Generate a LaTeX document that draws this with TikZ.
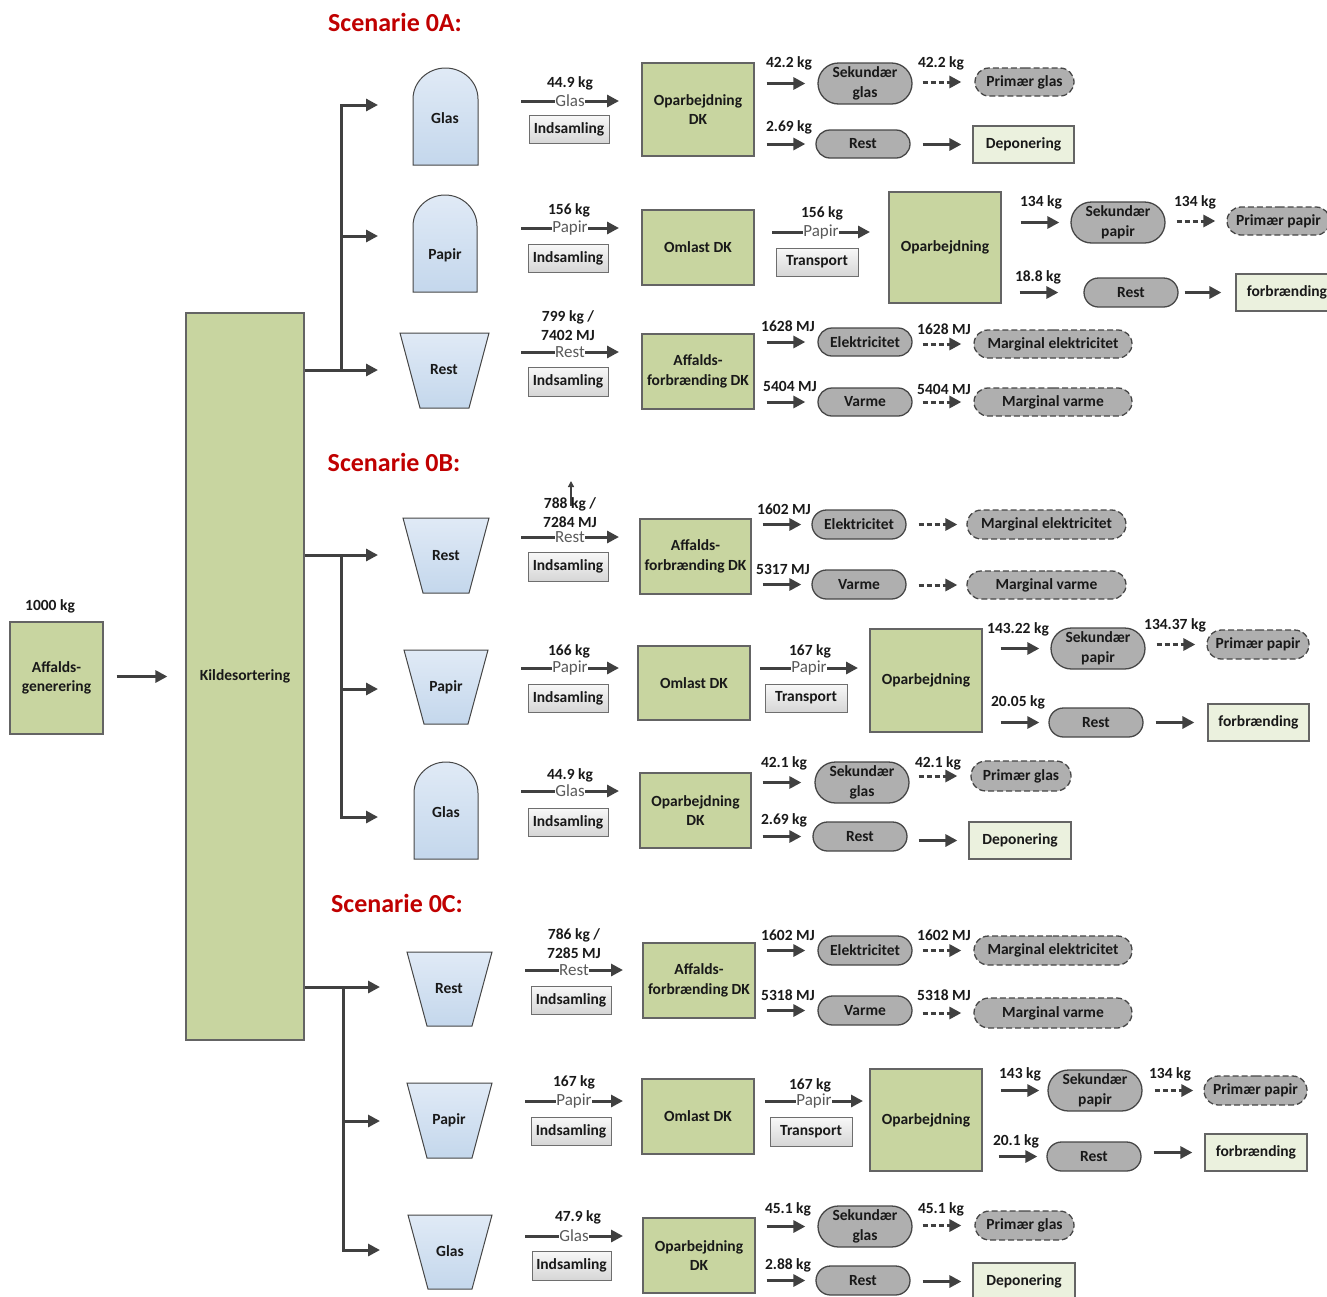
\documentclass[tikz,border=0pt]{standalone}
\usepackage{fontspec}
\setmainfont{Carlito}
\usetikzlibrary{arrows.meta,shapes.misc}
\definecolor{ogreen}{RGB}{200,213,160}
\definecolor{obord}{RGB}{100,100,100}
\definecolor{arrc}{RGB}{64,64,64}
\definecolor{pillc}{RGB}{175,175,175}
\definecolor{pillb}{RGB}{70,70,70}
\definecolor{lgreen}{RGB}{235,241,222}
\definecolor{lbord}{RGB}{100,100,100}
\definecolor{titred}{RGB}{192,0,0}
\definecolor{blue1}{RGB}{224,234,246}
\definecolor{blue2}{RGB}{196,215,236}
\definecolor{contb}{RGB}{70,70,70}
\definecolor{g1}{RGB}{248,248,248}
\definecolor{g2}{RGB}{214,214,214}
\definecolor{gbord}{RGB}{110,110,110}
\definecolor{txt}{RGB}{25,25,25}
\definecolor{flowc}{RGB}{90,90,90}
\newcommand\bx[6]{\node[#1,minimum width={(#5)-(#3)},minimum height={(#6)-(#4)}] (#2) at ({((#3)+(#5))/2},{((#4)+(#6))/2})}
\newcommand\cnx[5][arr]{\draw[#1] ([xshift=#4pt]#2.east |- #3.west) -- ([xshift=-#5pt]#3.west);}
\newcommand\domeshape[4]{\shadedraw[cont] (#1,#4) -- (#1,{#2+31}) .. controls (#1,{#2+14}) and ({(#1+#3)/2-0.5523*(#3-#1)/2},#2) .. ({(#1+#3)/2},#2) .. controls ({(#1+#3)/2+0.5523*(#3-#1)/2},#2) and (#3,{#2+14}) .. (#3,{#2+31}) -- (#3,#4) -- cycle;}
\newcommand\trapshape[6]{\shadedraw[cont] (#1,#3) -- (#2,#3) -- (#5,#6) -- (#4,#6) -- cycle;}
\tikzset{
 every node/.style={text=txt},
 arr/.style={draw=arrc,line width=3pt,-{Triangle[length=12pt,width=12pt]}},
 darr/.style={arr,dash pattern=on 5pt off 3pt},
 tiparr/.style={draw=arrc,line width=1.3pt,-{Triangle[length=6pt,width=6pt]}},
 bf/.style={font=\fontsize{15.5}{19.5}\selectfont\bfseries},
 lbl/.style={bf,inner sep=0pt,align=center},
 flow/.style={font=\fontsize{17}{19}\selectfont,text=flowc,fill=white,inner sep=0.5pt},
 obox/.style={bf,draw=obord,fill=ogreen,line width=1.2pt,align=center,inner sep=0pt},
 gbox/.style={bf,draw=gbord,top color=g1,bottom color=g2,line width=1pt,inner sep=0pt},
 lbox/.style={bf,draw=lbord,fill=lgreen,line width=1.2pt,inner sep=0pt},
 pill/.style={bf,rounded rectangle,draw=pillb,fill=pillc,line width=1.3pt,align=center,inner sep=0pt},
 dpill/.style={pill,dash pattern=on 6pt off 3pt},
 cont/.style={draw=contb,line width=1pt,top color=blue1,bottom color=blue2},
 clbl/.style={bf,inner sep=0pt},
 title/.style={font=\fontsize{26}{30}\selectfont\bfseries,text=titred,inner sep=0pt},
}
\begin{document}
\begin{tikzpicture}[x={(1pt,0pt)},y={(0pt,-1pt)}]
\useasboundingbox (0,0) rectangle (1327,1296);
\clip (0,0) rectangle (1327,1296);
% ---------- left part
\bx{obox}{aff}{10}{622}{103}{734}{Affalds-\\generering};
\node[lbl] (l1000) at (50,606) {1000 kg};
\bx{obox}{kil}{186}{313}{304}{1040}{Kildesortering};
\cnx{aff}{kil}{13}{18}
% ---------- titles
\node[title] (tA) at (395,22) {Scenarie 0A:};
\node[title] (tB) at (394,462) {Scenarie 0B:};
\node[title] (tC) at (397,903) {Scenarie 0C:};
% ---------- branches
\coordinate (jA) at (341,370);
\coordinate (eA1) at (378,105); \coordinate (eA2) at (378,236); \coordinate (eA3) at (378,370);
\draw[arr] (jA) -- (jA |- eA1) -- (eA1);
\draw[arr] (jA |- eA2) -- (eA2);
\draw[arr] (kil.east |- eA3) -- (eA3);
\coordinate (jB) at (341,555);
\coordinate (eB1) at (378,555); \coordinate (eB2) at (378,689); \coordinate (eB3) at (378,817);
\draw[arr] (kil.east |- eB1) -- (eB1);
\draw[arr] (jB) -- (jB |- eB3) -- (eB3);
\draw[arr] (jB |- eB2) -- (eB2);
\coordinate (jC) at (343,987);
\coordinate (eC1) at (380,987); \coordinate (eC2) at (380,1121); \coordinate (eC3) at (380,1250);
\draw[arr] (kil.east |- eC1) -- (eC1);
\draw[arr] (jC) -- (jC |- eC3) -- (eC3);
\draw[arr] (jC |- eC2) -- (eC2);
% ---------- containers
\domeshape{413}{68}{478}{165}
\node[clbl] (cA1) at (445,118) {Glas};
\domeshape{413}{195}{477}{292}
\node[clbl] (cA2) at (445,255) {Papir};
\trapshape{400}{489}{333}{420}{469}{408}
\node[clbl] (cA3) at (444,370) {Rest};
\trapshape{403}{489}{518}{423}{469}{593}
\node[clbl] (cB1) at (446,556) {Rest};
\trapshape{404}{488}{650}{424}{468}{724}
\node[clbl] (cB2) at (446,687) {Papir};
\domeshape{414}{762}{478}{859}
\node[clbl] (cB3) at (446,812) {Glas};
\trapshape{407}{492}{952}{427}{472}{1026}
\node[clbl] (cC1) at (449,989) {Rest};
\trapshape{407}{492}{1083}{427}{472}{1158}
\node[clbl] (cC2) at (449,1120) {Papir};
\trapshape{408}{492}{1215}{428}{472}{1289}
\node[clbl] (cC3) at (450,1251) {Glas};
% ---------- collection flows
\node[lbl] (qA1) at (570,83) {44.9 kg};
\coordinate (aA1) at (521,101); \coordinate (bA1) at (619,101);
\draw[arr] (aA1) -- node[flow]{Glas} (bA1);
\bx{gbox}{iA1}{529}{115}{609}{143}{Indsamling};
\node[lbl] (qA2) at (569,210) {156 kg};
\coordinate (aA2) at (521,228); \coordinate (bA2) at (619,228);
\draw[arr] (aA2) -- node[flow]{Papir} (bA2);
\bx{gbox}{iA2}{528}{244}{608}{272}{Indsamling};
\node[lbl] (qA3) at (568,325.5) {799 kg /\\7402 MJ};
\coordinate (aA3) at (521,352); \coordinate (bA3) at (619,352);
\draw[arr] (aA3) -- node[flow]{Rest} (bA3);
\bx{gbox}{iA3}{528}{367}{608}{396}{Indsamling};
\coordinate (uB0) at (571,506); \coordinate (uB1) at (571,481);
\draw[tiparr] (uB0) -- (uB1);
\node[lbl] (qB1) at (570,512.5) {788 kg /\\7284 MJ};
\coordinate (aB1) at (521,537); \coordinate (bB1) at (619,537);
\draw[arr] (aB1) -- node[flow]{Rest} (bB1);
\bx{gbox}{iB1}{528}{552}{608}{581}{Indsamling};
\node[lbl] (qB2) at (569,651) {166 kg};
\coordinate (aB2) at (521,668); \coordinate (bB2) at (619,668);
\draw[arr] (aB2) -- node[flow]{Papir} (bB2);
\bx{gbox}{iB2}{528}{684}{608}{712}{Indsamling};
\node[lbl] (qB3) at (570,775) {44.9 kg};
\coordinate (aB3) at (521,791); \coordinate (bB3) at (619,791);
\draw[arr] (aB3) -- node[flow]{Glas} (bB3);
\bx{gbox}{iB3}{528}{808}{608}{836}{Indsamling};
\node[lbl] (qC1) at (574,943.5) {786 kg /\\7285 MJ};
\coordinate (aC1) at (525,970); \coordinate (bC1) at (623,970);
\draw[arr] (aC1) -- node[flow]{Rest} (bC1);
\bx{gbox}{iC1}{531}{986}{611}{1014}{Indsamling};
\node[lbl] (qC2) at (574,1082) {167 kg};
\coordinate (aC2) at (525,1101); \coordinate (bC2) at (623,1101);
\draw[arr] (aC2) -- node[flow]{Papir} (bC2);
\bx{gbox}{iC2}{531}{1117}{611}{1145}{Indsamling};
\node[lbl] (qC3) at (578,1217) {47.9 kg};
\coordinate (aC3) at (525,1236); \coordinate (bC3) at (623,1236);
\draw[arr] (aC3) -- node[flow]{Glas} (bC3);
\bx{gbox}{iC3}{532}{1251}{611}{1280}{Indsamling};
% ---------- process boxes
\bx{obox}{pA1}{642}{63}{754}{156}{Oparbejdning\\DK};
\bx{obox}{pA2}{642}{210}{754}{285}{Omlast DK};
\bx{obox}{pA3}{642}{334}{754}{409}{Affalds-\\forbrænding DK};
\bx{obox}{pB1}{640}{519}{751}{594}{Affalds-\\forbrænding DK};
\bx{obox}{pB2}{638}{646}{750}{720}{Omlast DK};
\bx{obox}{pB3}{640}{773}{751}{848}{Oparbejdning\\DK};
\bx{obox}{pC1}{643}{943}{755}{1018}{Affalds-\\forbrænding DK};
\bx{obox}{pC2}{642}{1079}{754}{1154}{Omlast DK};
\bx{obox}{pC3}{643}{1218}{755}{1293}{Oparbejdning\\DK};
% ---------- transport
\node[lbl] (trqA) at (822,213) {156 kg};
\coordinate (taA) at (772,232); \coordinate (tbA) at (870,232);
\draw[arr] (taA) -- node[flow]{Papir} (tbA);
\bx{gbox}{trA}{776}{248}{858}{276}{Transport};
\node[lbl] (trqB) at (810,651) {167 kg};
\coordinate (taB) at (760,668); \coordinate (tbB) at (858,668);
\draw[arr] (taB) -- node[flow]{Papir} (tbB);
\bx{gbox}{trB}{765}{684}{847}{712}{Transport};
\node[lbl] (trqC) at (810,1085) {167 kg};
\coordinate (taC) at (765,1101); \coordinate (tbC) at (863,1101);
\draw[arr] (taC) -- node[flow]{Papir} (tbC);
\bx{gbox}{trC}{770}{1117}{852}{1146}{Transport};
% ---------- big Oparbejdning
\bx{obox}{oA}{889}{192}{1001}{303}{Oparbejdning};
\bx{obox}{oB}{870}{629}{982}{732}{Oparbejdning};
\bx{obox}{oC}{870}{1069}{982}{1171}{Oparbejdning};
% ---------- 0A glas outputs
\bx{pill}{sgA}{818}{63}{912}{104}{Sekundær\\glas};
\bx{dpill}{pgA}{975}{68}{1074}{96}{Primær glas};
\bx{pill}{rgA}{816}{130}{910}{158}{Rest};
\bx{lbox}{dA}{973}{126}{1074}{163}{Deponering};
\node[lbl] at (789,63) {42.2 kg};
\node[lbl] at (941,63) {42.2 kg};
\node[lbl] at (789,127) {2.69 kg};
\cnx{pA1}{sgA}{12}{12}
\cnx[darr]{sgA}{pgA}{10}{13}
\cnx{pA1}{rgA}{12}{10}
\cnx{rgA}{dA}{12}{11}
% ---------- 0A papir outputs
\bx{pill}{spA}{1071}{202}{1165}{243}{Sekundær\\papir};
\bx{dpill}{ppA}{1227}{207}{1330}{235}{Primær papir};
\bx{pill}{rpA}{1084}{278}{1178}{307}{Rest};
\bx{lbox}{fA}{1236}{274}{1338}{311}{forbrænding};
\node[lbl] at (1041,202) {134 kg};
\node[lbl] at (1195,202) {134 kg};
\node[lbl] at (1038,277) {18.8 kg};
\cnx{oA}{spA}{19}{11}
\cnx[darr]{spA}{ppA}{11}{11}
\cnx{oA}{rpA}{18}{25}
\cnx{rpA}{fA}{6}{14}
% ---------- 0A rest outputs
\bx{pill}{elA}{818}{328}{912}{356}{Elektricitet};
\bx{dpill}{meA}{974}{330}{1132}{358}{Marginal elektricitet};
\bx{pill}{vaA}{818}{388}{912}{416}{Varme};
\bx{dpill}{mvA}{974}{388}{1132}{416}{Marginal varme};
\node[lbl] at (788,326) {1628 MJ};
\node[lbl] at (944,329) {1628 MJ};
\node[lbl] at (790,386) {5404 MJ};
\node[lbl] at (944,389) {5404 MJ};
\cnx{pA3}{elA}{12}{12}
\cnx[darr]{elA}{meA}{10}{12}
\cnx{pA3}{vaA}{12}{12}
\cnx[darr]{vaA}{mvA}{10}{12}
% ---------- 0B rest outputs
\bx{pill}{elB}{812}{510}{906}{539}{Elektricitet};
\bx{dpill}{meB}{967}{510}{1126}{539}{Marginal elektricitet};
\bx{pill}{vaB}{812}{570}{906}{599}{Varme};
\bx{dpill}{mvB}{967}{571}{1126}{599}{Marginal varme};
\node[lbl] at (784,509) {1602 MJ};
\node[lbl] at (783,569) {5317 MJ};
\cnx{pB1}{elB}{11}{10}
\cnx[darr]{elB}{meB}{12}{9}
\cnx{pB1}{vaB}{11}{10}
\cnx[darr]{vaB}{mvB}{12}{9}
% ---------- 0B papir outputs
\bx{pill}{spB}{1051}{628}{1145}{669}{Sekundær\\papir};
\bx{dpill}{ppB}{1207}{630}{1309}{659}{Primær papir};
\bx{pill}{rpB}{1049}{708}{1143}{737}{Rest};
\bx{lbox}{fB}{1208}{704}{1309}{741}{forbrænding};
\node[lbl] at (1018,629) {143.22 kg};
\node[lbl] at (1175,625) {134.37 kg};
\node[lbl] at (1018,702) {20.05 kg};
\cnx{oB}{spB}{18}{11}
\cnx[darr]{spB}{ppB}{11}{11}
\cnx{oB}{rpB}{18}{9}
\cnx{rpB}{fB}{12}{13}
% ---------- 0B glas outputs
\bx{pill}{sgB}{815}{762}{909}{803}{Sekundær\\glas};
\bx{dpill}{pgB}{971}{761}{1071}{791}{Primær glas};
\bx{pill}{rgB}{813}{822}{907}{851}{Rest};
\bx{lbox}{dB}{969}{822}{1071}{859}{Deponering};
\node[lbl] at (784,763) {42.1 kg};
\node[lbl] at (938,763) {42.1 kg};
\node[lbl] at (784,820) {2.69 kg};
\cnx{pB3}{sgB}{11}{13}
\cnx[darr]{sgB}{pgB}{9}{13}
\cnx{pB3}{rgB}{11}{11}
\cnx{rgB}{dB}{11}{11}
% ---------- 0C rest outputs
\bx{pill}{elC}{818}{936}{912}{965}{Elektricitet};
\bx{dpill}{meC}{974}{936}{1132}{965}{Marginal elektricitet};
\bx{pill}{vaC}{818}{996}{912}{1025}{Varme};
\bx{dpill}{mvC}{974}{998}{1132}{1028}{Marginal varme};
\node[lbl] at (788,935) {1602 MJ};
\node[lbl] at (944,935) {1602 MJ};
\node[lbl] at (788,995) {5318 MJ};
\node[lbl] at (944,995) {5318 MJ};
\cnx{pC1}{elC}{11}{12}
\cnx[darr]{elC}{meC}{10}{12}
\cnx{pC1}{vaC}{11}{12}
\cnx[darr]{vaC}{mvC}{10}{12}
% ---------- 0C papir outputs
\bx{pill}{spC}{1048}{1070}{1142}{1111}{Sekundær\\papir};
\bx{dpill}{ppC}{1204}{1076}{1307}{1105}{Primær papir};
\bx{pill}{rpC}{1047}{1142}{1141}{1171}{Rest};
\bx{lbox}{fC}{1205}{1134}{1307}{1171}{forbrænding};
\node[lbl] at (1020,1074) {143 kg};
\node[lbl] at (1170,1074) {134 kg};
\node[lbl] at (1016,1141) {20.1 kg};
\cnx{oC}{spC}{18}{8}
\cnx[darr]{spC}{ppC}{12}{10}
\cnx{oC}{rpC}{16}{9}
\cnx{rpC}{fC}{12}{12}
% ---------- 0C glas outputs
\bx{pill}{sgC}{818}{1206}{912}{1247}{Sekundær\\glas};
\bx{dpill}{pgC}{975}{1211}{1074}{1240}{Primær glas};
\bx{pill}{rgC}{816}{1266}{910}{1295}{Rest};
\bx{lbox}{dC}{973}{1263}{1075}{1300}{Deponering};
\node[lbl] at (788,1209) {45.1 kg};
\node[lbl] at (941,1209) {45.1 kg};
\node[lbl] at (788,1265) {2.88 kg};
\cnx{pC3}{sgC}{11}{12}
\cnx[darr]{sgC}{pgC}{10}{13}
\cnx{pC3}{rgC}{11}{10}
\cnx{rgC}{dC}{12}{11}
\end{tikzpicture}
\end{document}
